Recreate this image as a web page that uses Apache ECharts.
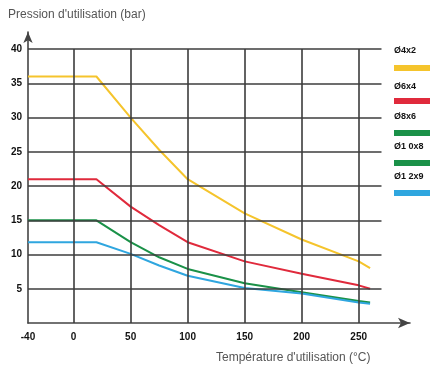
<!DOCTYPE html>
<html><head><meta charset="utf-8">
<script src="https://cdn.jsdelivr.net/npm/echarts@6/dist/echarts.min.js"></script>
<style>html,body{margin:0;padding:0;background:#fff}#c{width:430px;height:365px}</style>
</head><body><div id="c"></div>
<script>
const temps = [-40, 20, 50, 75, 100, 150, 200, 250, 260];
const s4x2 = [36, 36, 30, 25.3, 21, 16, 12.2, 9, 8];
const s6x4 = [21, 21, 17, 14.3, 11.8, 9, 7.2, 5.5, 5];
const s8x6 = [15, 15, 11.8, 9.6, 7.9, 5.8, 4.5, 3.2, 3];
const s12x9 = [11.8, 11.8, 10.1, 8.4, 6.9, 5.1, 4.3, 3.0, 2.8];
const xTicks = [-40, 0, 50, 100, 150, 200, 250];
const xGrid = [0, 50, 100, 150, 200, 250];
const yTicks = [5, 10, 15, 20, 25, 30, 35, 40];
const legendNames = ['Ø4x2', 'Ø6x4', 'Ø8x6', 'Ø1 0x8', 'Ø1 2x9'];
const legendColors = ['#F5C42C', '#E02A3C', '#1A9148', '#1A9148', '#2FA6DF'];
const yTitle = "Pression d'utilisation (bar)";
const xTitle = "Température d'utilisation (°C)";

const FONT = "'Liberation Sans Narrow', 'Arial Narrow', 'Liberation Sans', sans-serif";
const curves = [
  {name: 'Ø4x2', vals: s4x2, color: legendColors[0]},
  {name: 'Ø6x4', vals: s6x4, color: legendColors[1]},
  {name: 'Ø8x6 / Ø10x8', vals: s8x6, color: legendColors[2]},
  {name: 'Ø12x9', vals: s12x9, color: legendColors[4]}
];
const gridLineStyle = {color: '#3c3c3c', width: 1.6, type: 'solid'};
const markData = [];
xGrid.forEach(v => markData.push([{coord: [v, 0]}, {coord: [v, 40]}]));
yTicks.forEach(v => markData.push([{coord: [-40, v]}, {coord: [270, v]}]));

const legendText = [52, 88, 118, 148, 178];
const legendBar = [68, 101, 133, 163, 193];
const graphics = [];
legendNames.forEach((n, i) => {
  graphics.push({type: 'text', left: 394, top: legendText[i] - 6,
    style: {text: n, font: 'bold 9px ' + FONT, fill: '#111'}});
  graphics.push({type: 'rect', shape: {x: 394, y: legendBar[i] - 3, width: 36, height: 6},
    style: {fill: legendColors[i]}});
});

const chart = echarts.init(document.getElementById('c'));
chart.setOption({
  animation: false,
  title: [
    {text: yTitle, left: 3, top: 4, textStyle: {fontFamily: FONT, fontSize: 12, fontWeight: 'normal', color: '#555'}},
    {text: xTitle, left: 211, top: 347, textStyle: {fontFamily: FONT, fontSize: 12, fontWeight: 'normal', color: '#555'}}
  ],
  grid: {left: 28, right: 20, top: 32, bottom: 42},
  xAxis: {
    type: 'value', min: -40, max: 295,
    splitLine: {show: false}, axisTick: {show: false},
    axisLine: {show: true, onZero: false, symbol: ['none', 'arrow'], symbolSize: [8, 12], lineStyle: {color: '#444', width: 1.6}},
    axisLabel: {customValues: xTicks, margin: 9, fontFamily: FONT, fontSize: 10, fontWeight: 'bold', color: '#111'}
  },
  yAxis: {
    type: 'value', min: 0, max: 42.5,
    splitLine: {show: false}, axisTick: {show: false},
    axisLine: {show: true, onZero: false, symbol: ['none', 'arrow'], symbolSize: [7, 11], lineStyle: {color: '#444', width: 1.6}},
    axisLabel: {customValues: yTicks, margin: 6, fontFamily: FONT, fontSize: 10, fontWeight: 'bold', color: '#111'}
  },
  graphic: graphics,
  series: [
    {type: 'line', data: [], silent: true, z: 1,
      markLine: {silent: true, symbol: ['none', 'none'], label: {show: false}, lineStyle: gridLineStyle, data: markData}}
  ].concat(curves.map(c => ({
    type: 'line', name: c.name, z: 3, showSymbol: false, smooth: false,
    lineStyle: {color: c.color, width: 2}, itemStyle: {color: c.color},
    data: temps.map((t, i) => [t, c.vals[i]])
  })))
});
</script></body></html>
